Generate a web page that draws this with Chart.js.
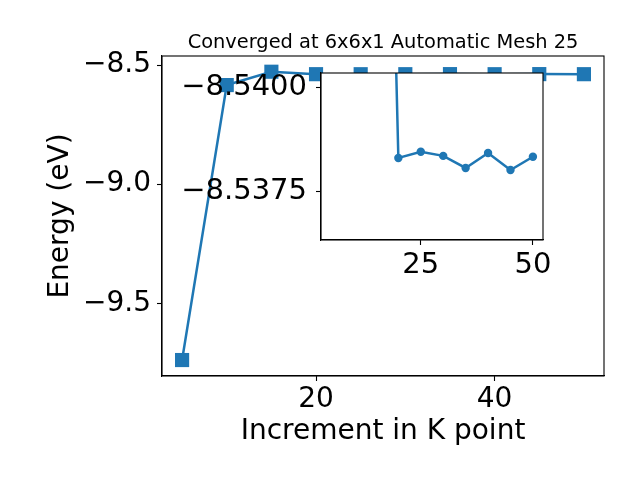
<!DOCTYPE html>
<html>
<head>
<meta charset="utf-8">
<script src="https://cdn.jsdelivr.net/npm/chart.js@4"></script>
<style>
body{margin:0;background:#fff}
#wrap{position:relative;width:640px;height:480px}
canvas{position:absolute;left:0;top:0}
#inset{pointer-events:none}
</style>
</head>
<body>
<div id="wrap">
<canvas id="main" width="640" height="480"></canvas>
<canvas id="inset" width="640" height="480"></canvas>
</div>
<script>
// main curve
const kPoints=[5,10,15,20,25,30,35,40,45,50]
const energy=[-9.738,-8.584,-8.528,-8.5383,-8.53845,-8.53835,-8.53806,-8.53842,-8.53801,-8.53833]
// zoomed inset
const insetK=[15,20,25,30,35,40,45,50]
const insetEnergy=[-8.56,-8.5383,-8.53845,-8.53835,-8.53806,-8.53842,-8.53801,-8.53833]

const xTicks=[20,40]
const yTicks=[-8.5,-9.0,-9.5]
const insetXTicks=[25,50]
const insetYTicks=[-8.5400,-8.5375]

const titleText="Converged at 6x6x1 Automatic Mesh 25"
const blue="#1f77b4"
const FONT="'DejaVu Sans', sans-serif"
const minus=s=>s.replace("-","\u2212")

const frame={
id:"frame",
beforeDraw(chart,args,opts){
const a=chart.chartArea,ctx=chart.ctx
ctx.save()
if(opts.full){ctx.fillStyle="#fff";ctx.fillRect(0,0,chart.width,chart.height)}
ctx.fillStyle="#fff"
ctx.fillRect(a.left,a.top,a.right-a.left,a.bottom-a.top)
ctx.restore()
},
afterDraw(chart,args,opts){
const a=chart.chartArea,ctx=chart.ctx
ctx.save()
ctx.strokeStyle="#000"
ctx.lineWidth=1.1
ctx.strokeRect(a.left,a.top,a.right-a.left,a.bottom-a.top)
if(opts.title){
// title centred over the axes, like matplotlib
ctx.fillStyle="#000"
ctx.font="19.4px "+FONT
ctx.textAlign="center"
ctx.textBaseline="alphabetic"
ctx.fillText(opts.title,(a.left+a.right)/2,a.top-8.3)
}
ctx.restore()
}
}

function axis(min,max,ticks,fmt,size,pad,extra){
return Object.assign({
type:"linear",
min:min,max:max,
afterBuildTicks:s=>{s.ticks=ticks.map(v=>({value:v}))},
ticks:{color:"#000",font:{family:FONT,size:size},padding:pad,maxRotation:0,autoSkip:false,callback:v=>fmt(v)},
grid:{display:true,drawOnChartArea:false,drawTicks:true,tickLength:5,color:"#000",tickWidth:1.1},
border:{display:true,color:"#000",width:1.1}
},extra)
}

new Chart(document.getElementById("main"),{
type:"line",
data:{datasets:[{
data:kPoints.map((k,i)=>({x:k,y:energy[i]})),
borderColor:blue,backgroundColor:blue,borderWidth:2.5,
pointStyle:"rect",pointRadius:10,pointBorderWidth:0
}]},
options:{
responsive:false,animation:false,devicePixelRatio:1,
layout:{padding:{left:0,right:36,top:56,bottom:0}},
plugins:{
legend:{display:false},tooltip:{enabled:false},title:{display:false},
frame:{full:true,title:titleText}
},
scales:{
x:axis(2.75,52.25,xTicks,v=>String(v),28,2,{
afterFit:s=>{s.height=104},
title:{display:true,text:"Increment in K point",color:"#000",font:{family:FONT,size:28,lineHeight:1.2},padding:{top:0,bottom:31}}
}),
y:axis(-9.805,-8.462,yTicks,v=>minus(v.toFixed(1)),28,6,{
afterFit:s=>{s.width=162},
title:{display:true,text:"Energy (eV)",color:"#000",font:{family:FONT,size:28,lineHeight:1.2},padding:{top:44,bottom:0}}
})
}
},
plugins:[frame]
})

new Chart(document.getElementById("inset"),{
type:"line",
data:{datasets:[{
data:insetK.map((k,i)=>({x:k,y:insetEnergy[i]})),
borderColor:blue,backgroundColor:blue,borderWidth:2.5,
pointStyle:"circle",pointRadius:4.2,pointBorderWidth:0
}]},
options:{
responsive:false,animation:false,devicePixelRatio:1,
layout:{padding:{left:0,right:97,top:73,bottom:0}},
plugins:{legend:{display:false},tooltip:{enabled:false},frame:{full:false}},
scales:{
x:axis(2.75,52.25,insetXTicks,v=>String(v),29,3,{afterFit:s=>{s.height=240}}),
y:axis(-8.54034,-8.53633,insetYTicks,v=>minus(v.toFixed(4)),29,9,{reverse:true,afterFit:s=>{s.width=321}})
}
},
plugins:[frame]
})
</script>
</body>
</html>
